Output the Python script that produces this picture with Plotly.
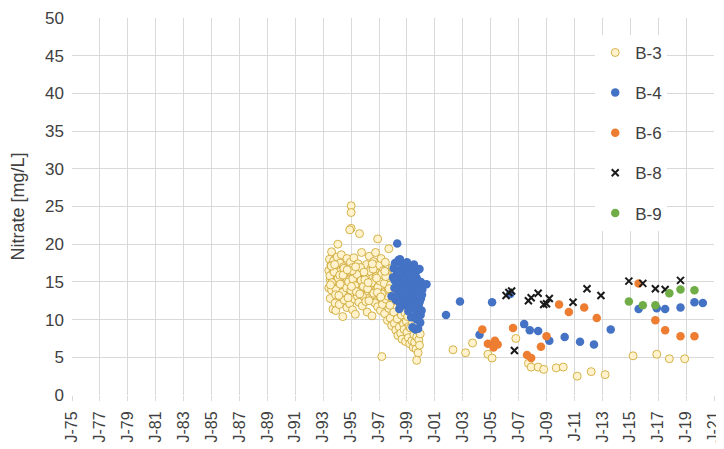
import plotly.graph_objects as go

tick_years = list(range(1975, 2022, 2))
tick_labels = ["J-%02d" % (y % 100) for y in tick_years]

b3_years = [
    1993.4, 1993.4, 1993.45, 1993.5, 1993.5, 1993.55, 1993.6, 1993.6, 1993.65, 1993.7, 1993.7, 1993.75, 1993.8, 1993.85, 1993.9, 1993.9, 1993.95, 1994.0, 1994.0,
    1994.05, 1994.1, 1994.1, 1994.15, 1994.2, 1994.25, 1994.3, 1994.3, 1994.35, 1994.4, 1994.4, 1994.45, 1994.5, 1994.5, 1994.55, 1994.6, 1994.65, 1994.7, 1994.7, 1994.75, 1994.8, 1994.85, 1994.9, 1994.9, 1994.95,
    1995.0, 1995.0, 1995.0, 1994.9,
    1995.0, 1995.05, 1995.1, 1995.1, 1995.15, 1995.2, 1995.25, 1995.3, 1995.3, 1995.35, 1995.4, 1995.45, 1995.5, 1995.5, 1995.55, 1995.6, 1995.6, 1995.65, 1995.7, 1995.75, 1995.8, 1995.8, 1995.85, 1995.9, 1995.95,
    1996.0, 1996.05, 1996.1, 1996.1, 1996.15, 1996.2, 1996.25, 1996.3, 1996.3, 1996.35, 1996.4, 1996.45, 1996.5, 1996.5, 1996.55, 1996.6, 1996.65, 1996.7, 1996.7, 1996.75, 1996.8, 1996.85, 1996.9, 1996.9, 1996.95,
    1997.0, 1997.05, 1997.1, 1997.1, 1997.15, 1997.2, 1997.2, 1997.25, 1997.3, 1997.35, 1997.4, 1997.4, 1997.45, 1997.5, 1997.55, 1997.6, 1997.6, 1997.65, 1997.7, 1997.7, 1997.75, 1997.8, 1997.85, 1997.9, 1997.95, 1997.95,
    1998.0, 1998.05, 1998.1, 1998.15, 1998.2, 1998.25, 1998.3, 1998.35, 1998.4, 1998.45, 1998.5, 1998.55, 1998.6, 1998.65, 1998.7, 1998.75, 1998.8, 1998.85, 1998.9, 1998.95,
    1999.0, 1999.05, 1999.1, 1999.15, 1999.2, 1999.25, 1999.3, 1999.35, 1999.4, 1999.45, 1999.5, 1999.55, 1999.6, 1999.65, 1999.7, 1999.7, 1999.75, 1999.8, 1999.85, 1999.9, 1999.95,
    1993.48, 1993.62, 1993.78, 1993.92, 1994.08, 1994.22, 1994.38, 1994.52, 1994.68, 1994.82, 1994.98, 1995.12, 1995.28, 1995.42, 1995.58, 1995.72, 1995.88,
    1996.02, 1996.18, 1996.32, 1996.48, 1996.62, 1996.78, 1996.92, 1997.08, 1997.22, 1997.38, 1997.52, 1997.68, 1997.82, 1997.98,
    1993.58, 1993.88, 1994.18, 1994.48, 1994.78, 1995.08, 1995.38, 1995.68, 1995.98, 1996.28, 1996.58, 1996.88, 1997.18, 1997.48, 1997.78,
    1993.52, 1993.82, 1994.12, 1994.42, 1994.72, 1995.02, 1995.32, 1995.62, 1995.92, 1996.22, 1996.52, 1996.82, 1997.12, 1997.42, 1997.72,
    2002.3, 2003.2, 2003.7, 2004.8, 2005.1, 2006.8, 2007.7, 2007.9, 2008.4, 2008.8, 2009.7, 2010.2, 2011.2, 2012.2, 2013.2, 2015.2, 2016.9, 2017.8, 2018.9,
]
b3_values = [
    16.5, 14.2, 18.0, 15.3, 12.8, 17.2, 19.0, 13.9, 16.1, 11.4, 15.0, 17.8, 14.6, 12.2, 16.8, 11.2, 15.7, 13.4, 18.3,
    20.0, 16.3, 14.1, 12.0, 17.5, 15.2, 13.0, 18.6, 16.0, 10.4, 14.5, 17.0, 12.6, 15.6, 13.8, 16.7, 14.9, 11.6, 18.1, 15.3, 13.2, 16.4, 14.3, 12.1, 17.6,
    25.1, 24.2, 22.1, 21.9,
    15.0, 13.5, 16.9, 11.3, 14.4, 18.2, 12.7, 15.8, 10.7, 14.0, 16.6, 13.1, 17.4, 15.1, 12.3, 21.4, 14.7, 16.2, 13.6, 18.9, 15.5, 11.8, 14.2, 16.8, 13.0,
    15.9, 12.4, 17.3, 14.6, 11.0, 16.1, 13.7, 18.4, 15.2, 12.9, 14.0, 16.9, 10.5, 15.6, 13.3, 17.7, 14.8, 12.2, 16.3, 18.9, 13.9, 15.4, 20.7, 11.7, 14.5,
    17.2, 13.2, 11.2, 15.8, 18.1, 5.1, 14.3, 12.0, 16.5, 13.6, 10.8, 15.0, 17.6, 12.7, 14.6, 9.9, 16.2, 13.1, 19.4, 11.5, 15.3, 10.2, 13.8, 9.2, 12.4, 16.9,
    14.8, 11.0, 9.5, 12.8, 8.6, 15.6, 10.1, 7.9, 13.2, 9.0, 11.7, 8.2, 10.6, 7.4, 12.3, 9.4, 8.7, 10.9, 7.1, 9.8,
    8.3, 10.4, 7.6, 9.1, 6.8, 8.9, 11.2, 7.2, 9.6, 6.3, 8.0, 7.0, 9.3, 6.1, 4.6, 7.7, 8.6, 5.6, 7.3, 6.6, 8.1,
    15.8, 14.9, 16.3, 14.0, 15.5, 14.7, 13.6, 16.1, 14.2, 15.0, 13.9, 15.4, 14.5, 16.0, 13.8, 15.2, 14.4,
    15.6, 14.1, 16.4, 14.9, 13.5, 15.7, 14.3, 15.1, 13.4, 14.8, 16.2, 13.9, 14.6, 12.9,
    17.1, 13.3, 15.9, 16.8, 12.9, 16.5, 13.7, 16.9, 15.3, 12.5, 16.7, 13.6, 16.0, 15.7, 11.9,
    14.6, 17.3, 13.2, 15.9, 16.6, 14.4, 17.0, 13.4, 16.3, 14.9, 17.4, 15.5, 13.0, 16.4, 14.1,
    6.0, 5.6, 6.9, 5.4, 4.9, 7.5, 4.2, 3.7, 3.7, 3.4, 3.6, 3.7, 2.5, 3.1, 2.7, 5.2, 5.4, 4.8, 4.8,
]

b4_years = [
    1997.9, 1998.0, 1998.05, 1998.1, 1998.15, 1998.2, 1998.25, 1998.3, 1998.3, 1998.35, 1998.4, 1998.4, 1998.45, 1998.5, 1998.5, 1998.55, 1998.6, 1998.6, 1998.65, 1998.7, 1998.7, 1998.75, 1998.8, 1998.8, 1998.85, 1998.9, 1998.9, 1998.95,
    1999.0, 1999.0, 1999.05, 1999.1, 1999.1, 1999.15, 1999.2, 1999.2, 1999.25, 1999.3, 1999.3, 1999.35, 1999.4, 1999.4, 1999.45, 1999.5, 1999.5, 1999.55, 1999.6, 1999.6, 1999.65, 1999.7, 1999.7, 1999.75, 1999.8, 1999.8, 1999.85, 1999.9, 1999.9, 1999.95,
    2000.0, 2000.0, 2000.05, 2000.1, 2000.4,
    1998.12, 1998.28, 1998.42, 1998.58, 1998.72, 1998.88, 1999.02, 1999.18, 1999.32, 1999.48, 1999.62, 1999.78, 1999.92, 2000.08,
    1998.18, 1998.48, 1998.78, 1999.08, 1999.38, 1999.68, 1999.98,
    2001.8, 2002.8, 2004.2, 2005.1, 2006.4, 2007.4, 2007.8, 2008.4, 2009.2, 2010.3, 2011.4, 2012.4, 2013.6, 2015.6, 2016.9, 2017.5, 2018.6, 2019.6, 2020.2,
]
b4_values = [
    13.1, 15.6, 16.8, 14.2, 17.5, 12.6, 15.9, 20.1, 16.4, 13.8, 17.9, 15.0, 11.4, 18.0, 14.5, 16.6, 12.9, 15.4, 17.3, 13.6, 16.0, 11.9, 14.8, 17.1, 15.7, 13.2, 16.5, 12.3,
    15.1, 17.6, 13.9, 16.2, 11.1, 14.4, 17.0, 15.3, 12.7, 16.8, 10.3, 14.0, 9.0, 15.8, 13.3, 17.3, 11.8, 14.9, 16.1, 8.7, 12.5, 15.5, 10.0, 13.6, 16.6, 8.8, 12.0, 16.7, 14.3, 9.6,
    15.0, 12.8, 11.2, 14.0, 14.7,
    15.2, 14.0, 16.2, 13.5, 14.9, 15.5, 13.1, 14.7, 15.6, 14.1, 13.8, 15.0, 12.4, 13.3,
    13.0, 12.2, 13.9, 12.1, 11.6, 11.0, 10.6,
    10.6, 12.4, 8.0, 12.3, 13.4, 9.4, 8.6, 8.5, 7.2, 7.7, 7.05, 6.7, 8.7, 11.4, 11.5, 11.4, 11.6, 12.3, 12.2,
]

b6_years = [2004.4, 2004.8, 2005.2, 2005.3, 2005.5, 2006.6, 2007.6, 2007.9, 2008.6, 2009.0, 2009.9, 2010.6, 2011.7, 2012.6, 2015.6, 2016.8, 2017.5, 2018.6, 2019.6]
b6_values = [8.7, 6.8, 6.3, 7.2, 6.7, 8.9, 5.3, 4.9, 6.4, 7.8, 12.0, 11.0, 11.6, 10.2, 14.8, 9.9, 8.6, 7.8, 7.8]

b8_years = [2006.1, 2006.3, 2006.5, 2006.7, 2007.7, 2007.9, 2008.4, 2008.8, 2009.0, 2009.2, 2010.9, 2011.9, 2012.9, 2014.9, 2015.9, 2016.8, 2017.5, 2018.6]
b8_values = [13.2, 13.6, 13.8, 5.9, 12.5, 12.9, 13.5, 12.0, 12.1, 12.8, 12.3, 14.1, 13.2, 15.1, 14.8, 14.1, 14.0, 15.2]

b9_years = [2014.9, 2015.9, 2016.8, 2017.8, 2018.6, 2019.6]
b9_values = [12.4, 11.9, 11.9, 13.5, 14.0, 13.9]

y_ticks = list(range(0, 51, 5))

FONT = "Liberation Sans"
TXT = "#404040"
fig = go.Figure()

def add(name, xs, ys, marker):
    fig.add_trace(go.Scatter(x=xs, y=ys, mode="markers", name=name, legendgroup=name,
                             marker=marker))

add("B-3", b3_years, b3_values, dict(size=8, color="#FFF2CC", line=dict(color="#C9A227", width=0.8)))
add("B-4", b4_years, b4_values, dict(size=8.5, color="#4472C4", line=dict(width=0)))
add("B-6", b6_years, b6_values, dict(size=8.5, color="#ED7D31", line=dict(width=0)))
add("B-8", b8_years, b8_values, dict(size=7, symbol="x-thin", color="#1a1a1a", line=dict(color="#1a1a1a", width=2)))
add("B-9", b9_years, b9_values, dict(size=8.5, color="#70AD47", line=dict(width=0)))

fig.update_layout(
    width=716, height=441,
    margin=dict(l=64, r=10, t=10, b=54),
    plot_bgcolor="white", paper_bgcolor="white",
    font=dict(family=FONT, size=17, color=TXT),
    showlegend=True,
    legend=dict(x=0.815, y=0.955, xanchor="left", yanchor="top",
                bgcolor="white", borderwidth=0, tracegroupgap=15,
                itemsizing="trace", itemwidth=30,
                font=dict(family=FONT, size=17, color=TXT)),
    xaxis=dict(range=[1975, 2021], tickvals=tick_years, ticktext=tick_labels,
               tickangle=-90, showgrid=True, gridcolor="#D9D9D9", gridwidth=1,
               zeroline=False, showline=False, ticks="outside", ticklen=5,
               tickcolor="#D9D9D9", automargin=False, ticklabelstandoff=4,
               tickfont=dict(family=FONT, size=16, color=TXT)),
    yaxis=dict(range=[0, 50], tickvals=y_ticks, showgrid=True, gridcolor="#D9D9D9",
               gridwidth=1, zeroline=False, showline=False, automargin=False,
               ticklabelstandoff=7, tickfont=dict(family=FONT, size=17, color=TXT),
               title=dict(text="Nitrate [mg/L]", font=dict(family=FONT, size=18, color=TXT), standoff=16)),
)

fig.write_html("out.html")
